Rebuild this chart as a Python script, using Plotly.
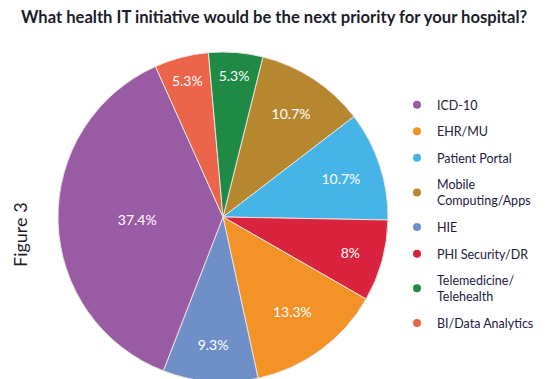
import plotly.graph_objects as go

# Legend order
categories = ["ICD-10", "EHR/MU", "Patient Portal", "Mobile<br>Computing/Apps", "HIE",
              "PHI Security/DR", "Telemedicine/<br>Telehealth", "BI/Data Analytics"]
shares = [37.4, 13.3, 10.7, 10.7, 9.3, 8.0, 5.3, 5.3]
share_labels = ["37.4%", "13.3%", "10.7%", "10.7%", "9.3%", "8%", "5.3%", "5.3%"]
colors = ["#9a5ba5", "#f39327", "#46b4e6", "#b6872f", "#6f8fc8", "#d9233f", "#1f8a46", "#ec6449"]

# Order of slices clockwise around the pie (indices into the lists above)
pie_order = [3, 2, 5, 1, 4, 0, 7, 6]

W, H = 557, 379
cx, cy, r = 215, 209, 165

fig = go.Figure()
fig.add_trace(go.Pie(
    labels=[categories[i] for i in pie_order],
    values=[shares[i] for i in pie_order],
    text=[share_labels[i] for i in pie_order],
    textinfo="text",
    textposition="inside",
    insidetextorientation="horizontal",
    textfont=dict(family="Lato", size=14, color="white"),
    marker=dict(colors=[colors[i] for i in pie_order], line=dict(color="#e9e2dc", width=1)),
    sort=False,
    direction="clockwise",
    rotation=14,
    showlegend=False,
    hoverinfo="label+percent",
    domain=dict(x=[(cx - r) / W, (cx + r) / W], y=[1 - (cy + r) / H, 1 - (cy - r) / H]),
))

for i, name in enumerate(categories):
    fig.add_trace(go.Scatter(
        x=[None], y=[None], mode="markers", name=name,
        marker=dict(color=colors[i], size=8, symbol="circle"),
        legendgroup=f"g{i}", showlegend=True,
    ))

fig.update_layout(
    width=W, height=H,
    margin=dict(l=0, r=0, t=0, b=0),
    paper_bgcolor="white", plot_bgcolor="white",
    xaxis=dict(visible=False), yaxis=dict(visible=False),
    title=dict(text="<b>What health IT initiative would be the next priority for your hospital?</b>",
               x=13 / W, xanchor="left", y=1 - 3 / H, yanchor="top",
               font=dict(family="Lato", size=16.6, color="#1c1c2c")),
    legend=dict(x=389 / W, xanchor="left", y=1 - 82 / H, yanchor="top",
                traceorder="grouped", tracegroupgap=7.3,
                font=dict(family="Lato", size=12.5, color="#22203e"),
                bgcolor="rgba(0,0,0,0)"),
    annotations=[dict(text="Figure 3", x=12 / W, y=1 - 227 / H, xref="paper", yref="paper",
                      xanchor="center", yanchor="middle",
                      showarrow=False, textangle=-90,
                      font=dict(family="Lato", size=18, color="#1c1c2c"))],
)

fig.write_html("out.html")
